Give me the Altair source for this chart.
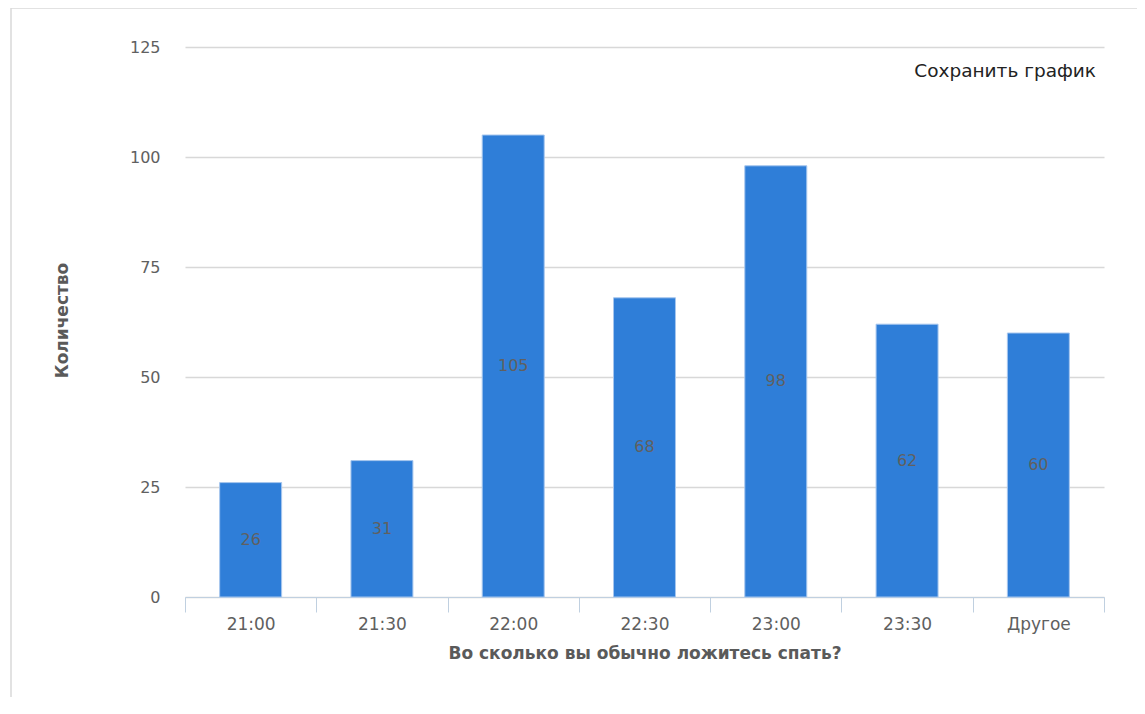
import altair as alt
import pandas as pd

categories = ["21:00", "21:30", "22:00", "22:30", "23:00", "23:30", "Другое"]
counts = [26, 31, 105, 68, 98, 62, 60]
y_ticks = [0, 25, 50, 75, 100, 125]

df = pd.DataFrame({"cat": categories, "n": counts})
df["half"] = df["n"] / 2

FONT = "DejaVu Sans"
W, H = 919, 550

x_scale = alt.Scale(paddingInner=0, paddingOuter=0)

x_enc = alt.X(
    "cat:N",
    sort=categories,
    scale=x_scale,
    axis=alt.Axis(
        title="Во сколько вы обычно ложитесь спать?",
        labelAngle=0,
        tickBand="extent",
        tickSize=15,
        tickColor="#c0d0e0",
        domainColor="#c0d0e0",
        labelPadding=4,
        labelFontSize=17,
        labelColor="#606060",
        labelFont=FONT,
        titleFont=FONT,
        titleFontSize=17,
        titleFontWeight="bold",
        titleColor="#5a5a5a",
        titleX=W / 2,
        titleY=56,
        titleBaseline="middle",
        titleAlign="center",
        grid=False,
    ),
)

y_scale = alt.Scale(domain=[0, 125], nice=False)

bars = alt.Chart(df).mark_bar(
    color="#2f7ed8", stroke="#a6c6ee", strokeWidth=1,
    width=alt.RelativeBandSize(0.472),
).encode(
    x=x_enc,
    y=alt.Y(
        "n:Q",
        scale=y_scale,
        axis=alt.Axis(
            title="Количество",
            values=y_ticks,
            domain=False,
            ticks=False,
            grid=True,
            gridColor="#d8d8d8",
            gridWidth=1.5,
            labelPadding=25,
            labelFontSize=16,
            labelColor="#606060",
            labelFont=FONT,
            titleFont=FONT,
            titleFontSize=17,
            titleFontWeight="bold",
            titleColor="#5a5a5a",
            titleAngle=270,
            titleX=-123,
            titleY=H / 2 - 2,
            titleAlign="center",
            titleBaseline="middle",
        ),
    ),
)

labels = alt.Chart(df).mark_text(
    color="#606060", fontSize=16, font=FONT, baseline="middle", align="center"
).encode(
    x=alt.X("cat:N", sort=categories, scale=x_scale),
    y=alt.Y("half:Q", scale=y_scale),
    text=alt.Text("n:Q"),
)

save_df = pd.DataFrame({"t": ["Сохранить график"]})
save_txt = alt.Chart(save_df).mark_text(
    color="#222222", fontSize=18.5, font=FONT, align="right", baseline="middle"
).encode(x=alt.value(911), y=alt.value(24), text="t:N")

border_df = pd.DataFrame({"k": [1]})
left_border = alt.Chart(border_df).mark_rule(color="#d8d8d8", strokeWidth=1.5).encode(
    x=alt.value(-174), y=alt.value(-39), y2=alt.value(660)
)
top_border = alt.Chart(border_df).mark_rule(color="#d8d8d8", strokeWidth=1.5).encode(
    x=alt.value(-174), x2=alt.value(960), y=alt.value(-39)
)

chart = (
    alt.layer(left_border, top_border, bars, labels, save_txt)
    .properties(
        width=W,
        height=H,
        autosize=alt.AutoSizeParams(type="none"),
        padding={"left": 177, "top": 39, "right": 33, "bottom": 100},
    )
    .configure(background="white", view=alt.ViewConfig(strokeWidth=0, stroke="transparent"))
)

chart.save("out.html", embed_options={"renderer": "svg", "actions": False})
